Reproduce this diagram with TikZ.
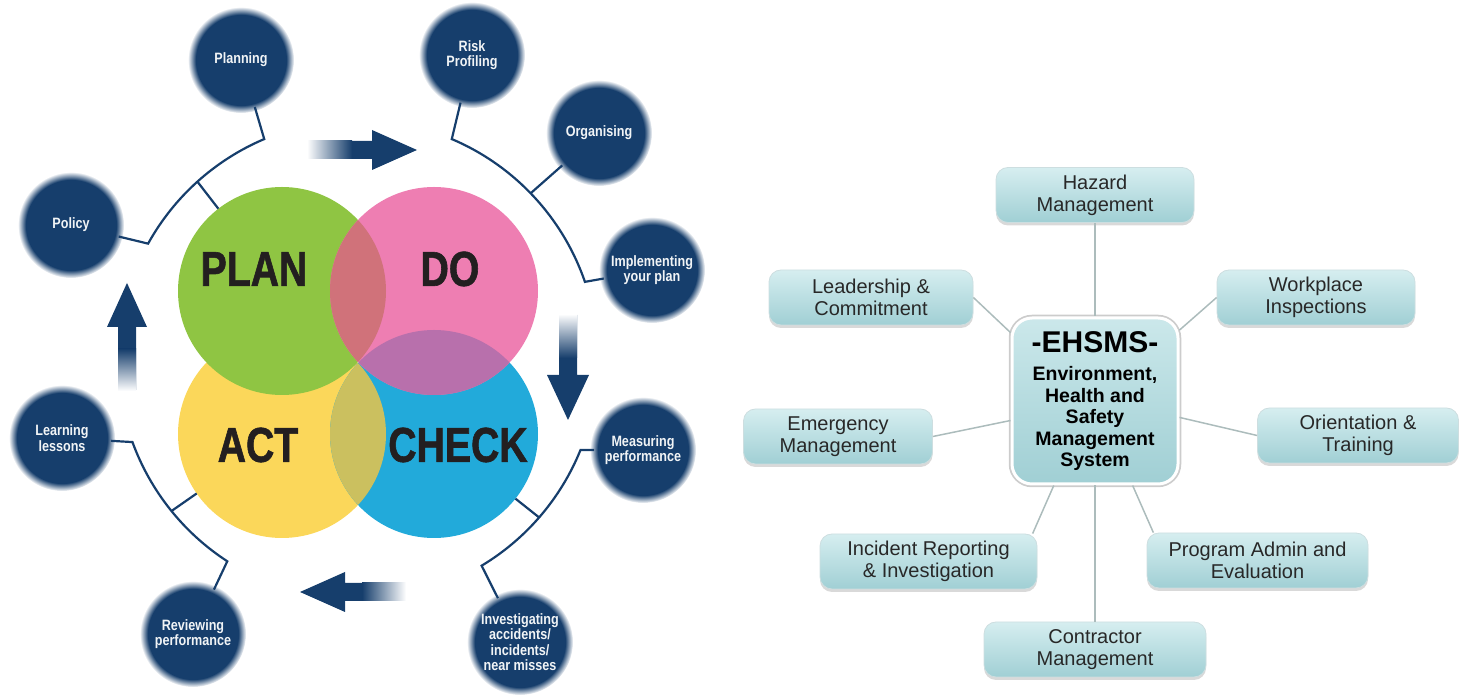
\documentclass[tikz,border=0pt]{standalone}
\usepackage{fontspec}
\setmainfont{Liberation Sans}
\newfontfamily\bigcond{Liberation Sans}[FakeStretch=0.8, FakeBold=1.2]
\newfontfamily\smallcond{Liberation Sans}[FakeStretch=0.84]
\usetikzlibrary{calc,shadows,fadings}

\definecolor{pdcanavy}{RGB}{22,62,108}
\definecolor{plangreen}{RGB}{143,197,67}
\definecolor{dopink}{RGB}{238,126,178}
\definecolor{checkblue}{RGB}{34,170,218}
\definecolor{actyellow}{RGB}{251,215,90}
\definecolor{lensgp}{RGB}{208,114,122}
\definecolor{lenspb}{RGB}{184,112,172}
\definecolor{lensyb}{RGB}{203,192,95}
\definecolor{pdcatext}{RGB}{35,31,32}
\definecolor{boxtop}{RGB}{214,238,240}
\definecolor{boxbot}{RGB}{160,207,212}
\definecolor{boxline}{RGB}{205,222,224}
\definecolor{boxtext}{RGB}{40,40,40}
\definecolor{spokegray}{RGB}{172,188,188}

\tikzset{
  bigdisc/.style={circle, minimum size=208pt, inner sep=0pt, outer sep=0pt},
  pdcalabel/.style={font=\bigcond\bfseries\fontsize{49}{52}\selectfont, text=pdcatext, inner sep=0pt},
  substep/.style={circle, fill=pdcanavy, path fading=circle with fuzzy edge 15 percent,
    minimum size=106pt, inner sep=0pt, outer sep=-4pt, align=center,
    text=white!94!pdcanavy, font=\smallcond\bfseries\fontsize{15}{15.5}\selectfont},
  bracketline/.style={draw=pdcanavy, line width=2.2pt},
  topic/.style={rounded corners=12pt, top color=boxtop, bottom color=boxbot, draw=boxline,
    line width=0.8pt, minimum height=55pt, inner sep=2pt, align=center, text=boxtext,
    font=\fontsize{20}{22}\selectfont,
    drop shadow={shadow xshift=0pt, shadow yshift=-3pt, opacity=0.3}},
  hub/.style={rounded corners=20pt, top color=boxtop!80!boxbot, bottom color=boxbot, draw=white,
    line width=3pt, preaction={draw=gray!40, line width=6.5pt}, minimum width=166pt,
    minimum height=166pt, inner sep=0pt, align=center, text=black,
    font=\bfseries\fontsize{19.5}{21.5}\selectfont},
  spoke/.style={draw=spokegray, line width=1.5pt}
}

\begin{document}
\begin{tikzpicture}[x=1pt, y=1pt]
  \useasboundingbox (0,0) rectangle (1465,698);

  % Draw the four PDCA discs
  \node[bigdisc, fill=actyellow] (act) at (282,264) {};
  \node[bigdisc, fill=checkblue] (check) at (434,264) {};
  \node[bigdisc, fill=plangreen] (plan) at (282,407) {};
  \node[bigdisc, fill=dopink] (do) at (434,407) {};

  % Shade the overlaps
  \begin{scope}
    \clip (plan.center) circle (104);
    \fill[lensgp] (do.center) circle (104);
  \end{scope}
  \begin{scope}
    \clip (do.center) circle (104);
    \fill[lenspb] (check.center) circle (104);
  \end{scope}
  \begin{scope}
    \clip (act.center) circle (104);
    \fill[lensyb] (check.center) circle (104);
  \end{scope}

  \node[pdcalabel] (plantxt) at (254,429) {PLAN};
  \node[pdcalabel] (dotxt) at (450,429) {DO};
  \node[pdcalabel] (acttxt) at (258,253) {ACT};
  \node[pdcalabel] (checktxt) at (458,253) {CHECK};

  % Draw the satellite circles
  \node[substep] (planning) at (241,638) {Planning};
  \node[substep] (risk) at (472,643) {Risk\\Profiling};
  \node[substep] (organising) at (599,565) {Organising};
  \node[substep] (implement) at (652,428) {Implementing\\your plan};
  \node[substep] (policy) at (71,473) {Policy};
  \node[substep] (learning) at (62,260) {Learning\\lessons};
  \node[substep] (measuring) at (643,248) {Measuring\\performance};
  \node[substep] (reviewing) at (193,64) {Reviewing\\performance};
  \node[substep] (investigating) at (520,56) {Investigating\\accidents/\\incidents/\\near misses};

  % Draw the brackets round the cycle
  \coordinate (cyc) at (358,338);
  \coordinate (cpol) at ($(cyc)+(151:240)$);
  \coordinate (stl) at ($(cyc)+(132:240)$);
  \coordinate (crisk) at ($(cyc)+(67:240)$);
  \coordinate (jorg) at ($(cyc)+(44:240)$);
  \coordinate (cmeas) at ($(cyc)+(-22:240)$);
  \coordinate (sbr) at ($(cyc)+(-41:240)$);
  \coordinate (clearn) at ($(cyc)+(200:240)$);
  \coordinate (sbl) at ($(cyc)+(219:240)$);

  \draw[bracketline] (policy) -- (cpol) arc[start angle=151, end angle=113, radius=240] -- (planning);
  \draw[bracketline] (stl) -- (plan);
  \draw[bracketline] (risk) -- (crisk) arc[start angle=67, end angle=19, radius=240] -- (implement);
  \draw[bracketline] (jorg) -- (organising);
  \draw[bracketline] (measuring) -- (cmeas) arc[start angle=-22, end angle=-59, radius=240] -- (investigating);
  \draw[bracketline] (sbr) -- (check);
  \draw[bracketline] (learning) -- (clearn) arc[start angle=200, end angle=237, radius=240] -- (reviewing);
  \draw[bracketline] (sbl) -- (act);

  % Draw the big arrows
  \fill[pdcanavy] (308,539) -- (372,539) -- (372,528) -- (417,548) -- (372,568) -- (372,557) -- (308,557) -- cycle;
  \shade[left color=white, right color=pdcanavy] (307,539) rectangle (352,557);
  \fill[pdcanavy] (559,383) -- (559,323) -- (547,323) -- (568,278) -- (589,323) -- (577,323) -- (577,383) -- cycle;
  \shade[top color=white, bottom color=pdcanavy] (559,384) rectangle (577,340);
  \fill[pdcanavy] (405,97) -- (345,97) -- (345,86) -- (300,106) -- (345,126) -- (345,115) -- (405,115) -- cycle;
  \shade[right color=white, left color=pdcanavy] (406,97) rectangle (362,115);
  \fill[pdcanavy] (118,308) -- (118,371) -- (107,371) -- (127,415) -- (147,371) -- (136,371) -- (136,308) -- cycle;
  \shade[bottom color=white, top color=pdcanavy] (118,307) rectangle (136,349);

  % Draw the EHSMS hub and its topics
  \node[hub] (ehsms) at (1095,297) {{\fontsize{30}{32}\selectfont -EHSMS-}\\[7pt]Environment,\\Health and\\Safety\\Management\\System};
  \node[topic, minimum width=198pt] (hazard) at (1095,503) {Hazard\\Management};
  \node[topic, minimum width=204pt] (leader) at (871,400.5) {Leadership \&\\Commitment};
  \node[topic, minimum width=198pt] (workplace) at (1316,400.5) {Workplace\\Inspections};
  \node[topic, minimum width=189pt] (emergency) at (838,261.5) {Emergency\\Management};
  \node[topic, minimum width=201pt] (orient) at (1358,262.5) {Orientation \&\\Training};
  \node[topic, minimum width=217pt] (incident) at (928.5,136.5) {Incident Reporting\\\& Investigation};
  \node[topic, minimum width=221pt] (program) at (1257.5,137.5) {Program Admin and\\Evaluation};
  \node[topic, minimum width=222pt] (contractor) at (1095,48.5) {Contractor\\Management};

  % Connect the topics to the hub
  \draw[spoke] (hazard) -- (ehsms);
  \draw[spoke] (leader.east) -- (ehsms.141);
  \draw[spoke] (ehsms.40) -- (workplace.west);
  \draw[spoke] (emergency.east) -- (ehsms.193);
  \draw[spoke] (ehsms.-11) -- (orient.west);
  \draw[spoke] (ehsms.-116) -- (incident.15);
  \draw[spoke] (ehsms.-66) -- (program.165);
  \draw[spoke] (ehsms) -- (contractor);
\end{tikzpicture}
\end{document}
